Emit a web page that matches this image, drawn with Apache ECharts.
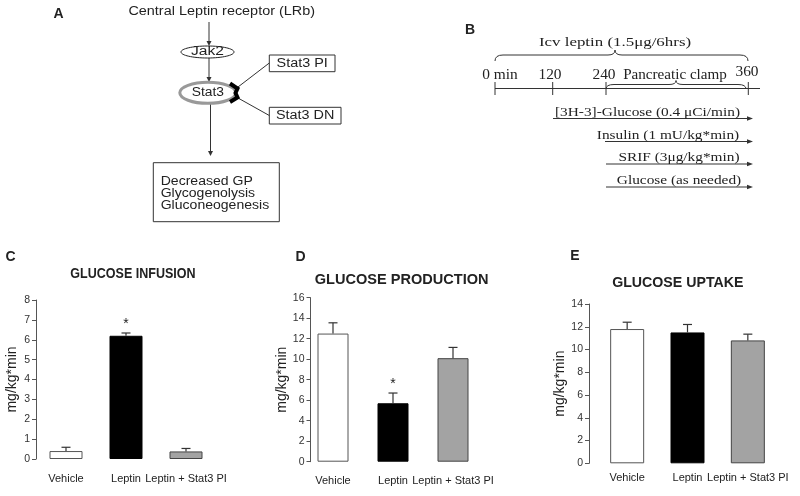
<!DOCTYPE html>
<html><head><meta charset="utf-8">
<script src="https://cdn.jsdelivr.net/npm/echarts@6/dist/echarts.min.js"></script>
<style>html,body{margin:0;padding:0;background:#fff}#c{width:800px;height:496px}</style>
</head><body><div id="c"></div><script>
// ---- data ----
const categories = ['Vehicle', 'Leptin', 'Leptin + Stat3 PI'];
const infusionValues = [0.4, 6.2, 0.38];
const infusionErrors = [0.19, 0.14, 0.15];
const infusionStars = ['', '*', ''];
const productionValues = [12.5, 5.7, 10.1];
const productionErrors = [1.05, 1.0, 1.05];
const productionStars = ['', '*', ''];
const uptakeValues = [11.8, 11.5, 10.8];
const uptakeErrors = [0.6, 0.7, 0.55];
const uptakeStars = ['', '', ''];
const panelTitles = ['GLUCOSE INFUSION', 'GLUCOSE PRODUCTION', 'GLUCOSE UPTAKE'];
const yAxisName = 'mg/kg*min';
const timelineLabels = ['0 min', '120', '240', '360'];
const infusionLines = ['[3H-3]-Glucose (0.4 \u03bcCi/min)', 'Insulin (1 mU/kg*min)', 'SRIF (3\u03bcg/kg*min)', 'Glucose (as needed)'];
const pathwayNodes = ['Central Leptin receptor (LRb)', 'Jak2', 'Stat3', 'Stat3 PI', 'Stat3 DN'];
const pathwayOutcome = ['Decreased GP', 'Glycogenolysis', 'Gluconeogenesis'];

// ---- drawing ----
const SANS = '"Liberation Sans", Arial, sans-serif';
const SERIF = '"Liberation Serif", "Times New Roman", serif';
const INK = '#222';
const chart = echarts.init(document.getElementById('c'), null, {renderer: 'canvas'});

function txt(t, x, y, font, sx, align) {
  return {type: 'text', x: x, y: y, scaleX: sx || 1, z: 10,
    style: {text: t, x: 0, y: 0, align: align || 'center', verticalAlign: 'middle',
      textAlign: align || 'center', textVerticalAlign: 'middle', font: font, fill: INK}};
}
function ln(x1, y1, x2, y2, w, c) {
  return {type: 'line', z: 5, shape: {x1, y1, x2, y2}, style: {stroke: c || '#333', lineWidth: w || 1}};
}
function bz(x1, y1, cx, cy, x2, y2) {
  return {type: 'bezierCurve', z: 5, shape: {x1, y1, cpx1: cx, cpy1: cy, x2, y2}, style: {stroke: '#333', lineWidth: 1, fill: null}};
}
function arrowDown(x, y) {
  return {type: 'polygon', z: 5, shape: {points: [[x - 2.5, y - 5], [x + 2.5, y - 5], [x, y]]}, style: {fill: '#333'}};
}
function arrowRight(x, y) {
  return {type: 'polygon', z: 5, shape: {points: [[x - 6, y - 2.2], [x - 6, y + 2.2], [x, y]]}, style: {fill: '#333'}};
}
function rectBox(x, y, w, h) {
  return {type: 'rect', z: 4, shape: {x, y, width: w, height: h}, style: {fill: '#fff', stroke: '#333', lineWidth: 1}};
}
function brace(xa, xb, xm, yEnd, yFlat, yTip) {
  return [
    bz(xa, yEnd, xa, yFlat, xa + 8, yFlat),
    ln(xa + 8, yFlat, xm - 7, yFlat),
    bz(xm - 7, yFlat, xm, yFlat, xm, yTip),
    bz(xm, yTip, xm, yFlat, xm + 7, yFlat),
    ln(xm + 7, yFlat, xb - 8, yFlat),
    bz(xb - 8, yFlat, xb, yFlat, xb, yEnd)
  ];
}

const g = [];
// Panel letters
g.push(txt('A', 58.5, 14.5, 'bold 14px ' + SANS));
g.push(txt('B', 470, 30, 'bold 14px ' + SANS));
g.push(txt('C', 10.5, 257.5, 'bold 14px ' + SANS));
g.push(txt('D', 300.5, 257, 'bold 14px ' + SANS));
g.push(txt('E', 575, 256.5, 'bold 14px ' + SANS));

// Panel A pathway
const fA = '12px ' + SANS;
g.push(txt(pathwayNodes[0], 221.7, 12, fA, 1.2));
g.push(ln(209, 22, 209, 44)); g.push(arrowDown(209, 46));
g.push({type: 'ellipse', z: 7, shape: {cx: 207.5, cy: 52, rx: 26.5, ry: 6}, style: {fill: '#fff', stroke: '#222', lineWidth: 1}});
g.push(txt(pathwayNodes[1], 207.5, 52, fA, 1.3));
g.push(ln(209, 58, 209, 79)); g.push(arrowDown(209, 82));
g.push({type: 'ellipse', z: 7, shape: {cx: 207.8, cy: 92.8, rx: 28, ry: 10.5}, style: {fill: '#fff', stroke: '#999', lineWidth: 3}});
g.push(txt(pathwayNodes[2], 207.8, 92.8, fA, 1.15));
g.push(ln(238, 87, 269.3, 63));
g.push(ln(238, 98, 269.3, 115.5));
g.push({type: 'polyline', z: 8, shape: {points: [[230, 83.5], [237.5, 88.5], [235.5, 93], [237.5, 97.5], [230, 102]]}, style: {stroke: '#000', lineWidth: 4, fill: null}});
g.push(rectBox(269.3, 55, 65.7, 16.7)); g.push(txt(pathwayNodes[3], 302.2, 63.5, fA, 1.2));
g.push(rectBox(269.3, 107.3, 71.7, 16.7)); g.push(txt(pathwayNodes[4], 305.2, 115.8, fA, 1.2));
g.push(ln(210.5, 104, 210.5, 153)); g.push(arrowDown(210.5, 156));
g.push(rectBox(153.3, 162.7, 126, 59));
pathwayOutcome.forEach((t, i) => g.push(txt(t, 160.7, 181.5 + i * 12, fA, 1.17, 'left')));

// Panel B protocol
g.push(txt('Icv leptin (1.5\u03bcg/6hrs)', 615, 43, '13px ' + SERIF, 1.3));
brace(495, 748, 615, 61, 55, 50).forEach(e => g.push(e));
g.push(ln(495, 88.5, 760, 88.5));
[495, 552.7, 606, 748.3].forEach(x => g.push(ln(x, 82, x, 95)));
const fT = '14px ' + SERIF;
g.push(txt(timelineLabels[0], 500, 75, fT, 1.1));
g.push(txt(timelineLabels[1], 550, 75, fT, 1.1));
g.push(txt(timelineLabels[2], 604, 75, fT, 1.1));
g.push(txt(timelineLabels[3], 747, 72, fT, 1.1));
g.push(txt('Pancreatic clamp', 675, 75, '14px ' + SERIF, 1.08));
brace(606, 746, 676, 89, 84.5, 80.5).forEach(e => g.push(e));
const arrowRows = [[553, 118.5, 647.5], [605, 141.5, 668], [606, 164, 679], [606, 187, 679]];
arrowRows.forEach((r, i) => {
  g.push(ln(r[0], r[1], 749, r[1]));
  g.push(arrowRight(753, r[1]));
  g.push(txt(infusionLines[i], r[2], r[1] - 6, '13px ' + SERIF, 1.18));
});

// Titles of bar panels
g.push(txt(panelTitles[0], 133, 273.5, 'bold 15px ' + SANS, 0.835));
g.push(txt(panelTitles[1], 401.7, 279.7, 'bold 15px ' + SANS, 0.97));
g.push(txt(panelTitles[2], 677.8, 282.5, 'bold 15px ' + SANS, 0.945));

// ---- bar panels ----
const panels = [
  {vals: infusionValues, errs: infusionErrors, stars: infusionStars, max: 8, interval: 1,
    grid: {left: 36, top: 300, width: 180, height: 159}, offset: 0, nameGap: 17, labelMargin: 14, barWidth: 33},
  {vals: productionValues, errs: productionErrors, stars: productionStars, max: 16, interval: 2,
    grid: {left: 303, top: 297.7, width: 180, height: 164}, offset: -7.5, nameGap: 21.5, labelMargin: 14, barWidth: 31},
  {vals: uptakeValues, errs: uptakeErrors, stars: uptakeStars, max: 14, interval: 2,
    grid: {left: 597, top: 304, width: 181, height: 159.3}, offset: 8, nameGap: 18, labelMargin: 9, barWidth: 34}
];
const fills = ['#ffffff', '#000000', '#a3a3a3'];
const borders = ['#555555', '#000000', '#444444'];

const grids = [], xAxes = [], yAxes = [], series = [];
panels.forEach((p, k) => {
  grids.push(p.grid);
  xAxes.push({gridIndex: k, type: 'category', data: categories,
    axisLine: {show: false}, axisTick: {show: false},
    axisLabel: {interval: 0, margin: p.labelMargin, fontSize: 11, color: INK, fontFamily: SANS}});
  yAxes.push({gridIndex: k, type: 'value', min: 0, max: p.max, interval: p.interval, offset: p.offset,
    name: yAxisName, nameLocation: 'middle', nameGap: p.nameGap,
    nameTextStyle: {fontSize: 14, color: INK, fontFamily: SANS},
    axisLine: {show: true, lineStyle: {color: '#555', width: 1}},
    axisTick: {show: true, length: 4, lineStyle: {color: '#555'}},
    axisLabel: {fontSize: 10.5, color: '#333', margin: 6, fontFamily: SANS},
    splitLine: {show: false}});
  series.push({type: 'bar', xAxisIndex: k, yAxisIndex: k, barWidth: p.barWidth, silent: true, z: 2,
    data: p.vals.map((v, i) => ({value: v, itemStyle: {color: fills[i], borderColor: borders[i], borderWidth: 1}}))});
  const stars = p.stars;
  series.push({type: 'custom', xAxisIndex: k, yAxisIndex: k, silent: true, z: 3,
    data: p.vals.map((v, i) => [i, v, p.errs[i]]),
    renderItem: function (params, api) {
      const x = api.value(0), v = api.value(1), e = api.value(2);
      const a = api.coord([x, v]), b = api.coord([x, v + e]);
      const ch = [
        {type: 'line', shape: {x1: a[0], y1: a[1], x2: b[0], y2: b[1]}, style: {stroke: '#333', lineWidth: 1.2}},
        {type: 'line', shape: {x1: b[0] - 4.5, y1: b[1], x2: b[0] + 4.5, y2: b[1]}, style: {stroke: '#333', lineWidth: 1.2}}
      ];
      const s = stars[params.dataIndex];
      if (s) ch.push({type: 'text', x: b[0], y: b[1] - 2,
        style: {text: s, align: 'center', verticalAlign: 'bottom', textAlign: 'center', textVerticalAlign: 'bottom',
          font: '14px ' + SANS, fill: INK}});
      return {type: 'group', children: ch};
    }});
});

chart.setOption({
  animation: false,
  backgroundColor: '#fff',
  grid: grids, xAxis: xAxes, yAxis: yAxes, series: series,
  graphic: {elements: g}
});
</script></body></html>
